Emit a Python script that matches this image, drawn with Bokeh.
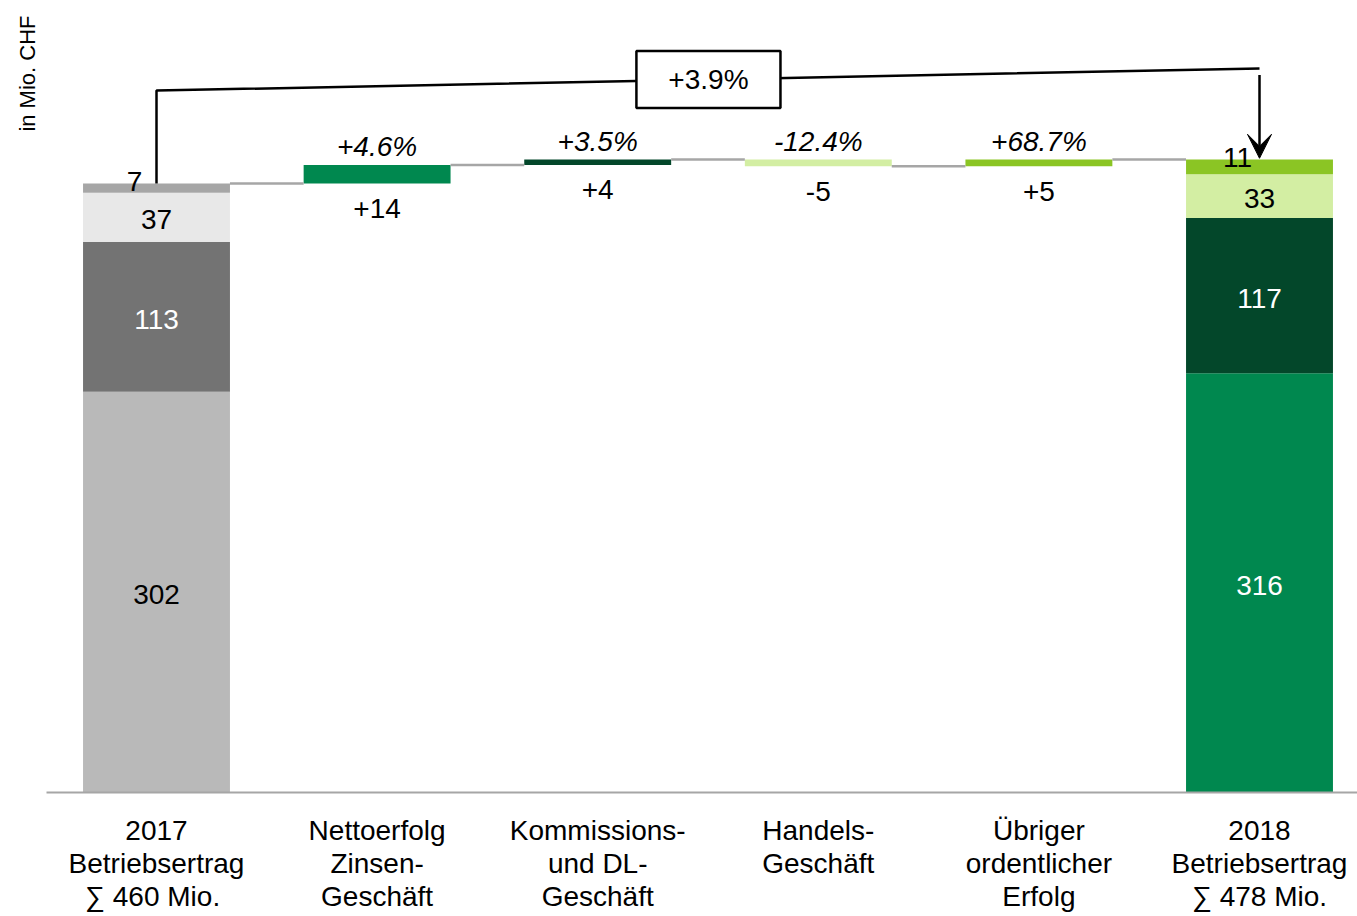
import numpy as np
from bokeh.plotting import figure
from bokeh.models import Range1d, ColumnDataSource, Arrow, VeeHead
from bokeh.core.properties import value
from bokeh.embed import file_html
from bokeh.resources import INLINE

# ---------------- data ----------------
categories = [
    "2017\nBetriebsertrag\n\u2211 460  Mio.",
    "Nettoerfolg\nZinsen-\nGeschäft",
    "Kommissions-\nund DL-\nGeschäft",
    "Handels-\nGeschäft",
    "Übriger\nordentlicher\nErfolg",
    "2018\nBetriebsertrag\n\u2211 478 Mio.",
]
seg_2017 = [302, 113, 37, 7]
seg_2018 = [316, 117, 33, 11]
deltas = [14, 4, -5, 5]
delta_labels = ["+14", "+4", "-5", "+5"]
pct_labels = ["+4.6%", "+3.5%", "-12.4%", "+68.7%"]
total_change_label = "+3.9%"
y_label = "in Mio.  CHF"

# ---------------- styles ----------------
gray_cols = ["#B9B9B9", "#737373", "#E8E8E8", "#A6A6A6"]
gray_txt = ["black", "white", "black", "black"]
green_cols = ["#00884F", "#03472A", "#D3EEA3", "#8BC524"]
green_txt = ["white", "white", "black", "black"]
delta_cols = ["#00884F", "#03472A", "#D3EEA3", "#8BC524"]
FONT = value("Liberation Sans")
FS = "28px"
BW = 0.666
PX_PER_UNIT = 1.3268
PX_PER_CAT = 220.6

W, H = 1357, 916
# page coordinates: figure at (0, 0); baseline at page y 792, first center at page x 156
x0 = (0 - 156) / PX_PER_CAT
x1 = (W - 156) / PX_PER_CAT
y1 = 792 / PX_PER_UNIT
y0 = (792 - H) / PX_PER_UNIT

p = figure(width=W, height=H, output_backend="svg", toolbar_location=None,
           x_range=Range1d(x0, x1), y_range=Range1d(y0, y1),
           min_border=0, min_border_left=0, min_border_right=0,
           min_border_top=0, min_border_bottom=0)
p.axis.visible = False
p.grid.visible = False
p.outline_line_color = None
p.background_fill_color = "white"


def stacked(xpos, segs, cols, txtcols):
    tops = np.cumsum(segs)
    bottoms = tops - np.array(segs)
    src = ColumnDataSource(dict(x=[xpos] * len(segs), bottom=bottoms, top=tops, color=cols))
    p.vbar(x="x", bottom="bottom", top="top", width=BW, color="color", line_color=None, source=src)
    lx, ly, lt, lc = [], [], [], []
    for b, t, s, c in zip(bottoms, tops, segs, txtcols):
        if s < 15:
            lx.append(xpos - 0.1)
            ly.append(t + 1.5)
        else:
            lx.append(xpos)
            ly.append((b + t) / 2 - 2)
        lt.append(str(s))
        lc.append(c)
    p.text(x=lx, y=ly, text=lt, text_color=lc, text_font=FONT, text_font_size=FS,
           text_align="center", text_baseline="middle")
    return tops[-1]


total17 = stacked(0, seg_2017, gray_cols, gray_txt)
total18 = stacked(5, seg_2018, green_cols, green_txt)

# waterfall deltas
levels = [total17]
for d in deltas:
    levels.append(levels[-1] + d)
dx = list(range(1, 1 + len(deltas)))
dbot = [min(levels[i], levels[i + 1]) for i in range(len(deltas))]
dtop = [max(levels[i], levels[i + 1]) for i in range(len(deltas))]
p.vbar(x=dx, bottom=dbot, top=dtop, width=BW, color=delta_cols, line_color=None)

# connectors
cx0 = [i + BW / 2 for i in range(len(levels))]
cx1 = [i + 1 - BW / 2 for i in range(len(levels))]
p.segment(x0=cx0, y0=levels, x1=cx1, y1=levels, line_color="#A6A6A6", line_width=2.5)

# delta labels
p.text(x=dx, y=dtop, text=pct_labels, text_font=FONT, text_font_size=FS,
       text_font_style="italic", text_align="center", text_baseline="middle",
       y_offset=-18, text_color="black")
p.text(x=dx, y=dbot, text=delta_labels, text_font=FONT, text_font_size=FS,
       text_align="center", text_baseline="middle", y_offset=25, text_color="black")

# baseline axis line
p.segment(x0=[(46 - 156) / PX_PER_CAT], y0=[0], x1=[x1], y1=[0], line_color="#A6A6A6", line_width=2)

# category labels
p.text(x=list(range(len(categories))), y=[-17.3] * len(categories), text=categories,
       text_font=FONT, text_font_size=FS, text_align="center", text_baseline="top",
       text_line_height=1.06, text_color="black")

# y label
p.text(x=[(27 - 156) / PX_PER_CAT], y=[(792 - 70) / PX_PER_UNIT], text=[y_label],
       angle=np.pi / 2, text_font=FONT, text_font_size="22px", text_align="center",
       text_baseline="middle", text_color="black")

# bracket showing total change
br_left = 529.0
br_right = 545.7
p.line(x=[0, 0, 5, 5], y=[total17, br_left, br_right, br_right], line_color="black", line_width=2.5)
p.add_layout(Arrow(x_start=5, y_start=br_right - 5, x_end=5, y_end=total18 + 1,
                   line_color="black", line_width=2.5,
                   end=VeeHead(size=24, fill_color="black", line_color="black", line_width=1)))
bx = 2.502
by = (br_left + br_right) / 2
p.rect(x=[bx], y=[by], width=0.653, height=43, fill_color="white",
       line_color="black", line_width=2.5)
p.text(x=[bx], y=[by], text=[total_change_label], text_font=FONT, text_font_size=FS,
       text_align="center", text_baseline="middle", text_color="black")

open("out.html", "w").write(file_html(p, INLINE))
